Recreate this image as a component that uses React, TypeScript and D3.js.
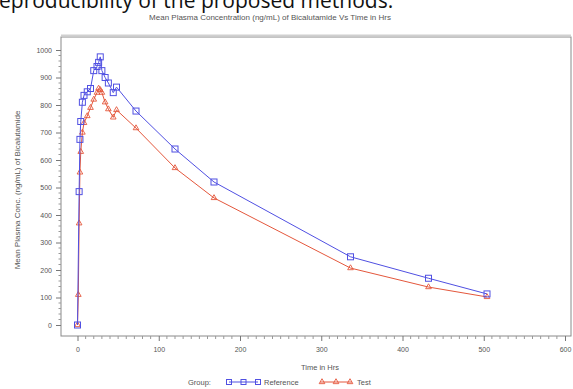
import React, { useEffect, useRef } from 'react';
import * as d3 from 'd3';

// Reference group (blue squares)
const refTime = [0, 2, 3, 4, 6, 8, 12, 16, 20, 24, 26, 28, 30, 34, 38, 44, 48, 72, 120, 168, 336, 432, 504];
const refConc = [0, 485, 675, 740, 810, 835, 848, 860, 925, 940, 955, 975, 925, 900, 880, 845, 865, 778, 640, 520, 248, 170, 113];

// Test group (red)
const testTime = [0, 1, 2, 3, 4, 6, 8, 12, 16, 20, 24, 26, 28, 30, 34, 38, 44, 48, 72, 120, 168, 336, 432, 504];
const testConc = [0, 110, 370, 555, 630, 700, 735, 760, 790, 820, 845, 860, 855, 845, 810, 785, 755, 782, 716, 571, 462, 207, 138, 102];

const xTicks = [0, 100, 200, 300, 400, 500, 600];
const yTicks = [0, 100, 200, 300, 400, 500, 600, 700, 800, 900, 1000];

const title = 'Mean Plasma Concentration (ng/mL) of Bicalutamide Vs Time in Hrs';
const xTitle = 'Time in Hrs';
const yTitle = 'Mean Plasma Conc. (ng/mL) of Bicalutamide';

const App = () => {
    const svgRef = useRef<SVGSVGElement>(null);

    useEffect(() => {
        const svg = d3.select(svgRef.current);
        svg.selectAll('*').remove();

        const width = 573;
        const height = 389;
        const frame = { left: 61, top: 37, right: 571, bottom: 336 };
        const font = 'Liberation Sans, Arial, sans-serif';
        const grey = '#555';

        svg.attr('width', width).attr('height', height);

        svg.append('rect').attr('width', width).attr('height', height).attr('fill', '#fff');

        // document text above the figure, cut off at the top as in the page
        svg.append('text')
            .attr('x', -1).attr('y', 8)
            .attr('font-family', 'Open Sans, sans-serif')
            .attr('font-size', 21)
            .attr('fill', '#111')
            .text('eproducibility of the proposed methods.');

        const x = d3.scaleLinear().domain([0, 600]).range([77.5, 565]);
        const y = d3.scaleLinear().domain([0, 1000]).range([325, 50]);

        // frame
        svg.append('rect')
            .attr('x', frame.left).attr('y', frame.top)
            .attr('width', frame.right - frame.left)
            .attr('height', frame.bottom - frame.top)
            .attr('fill', 'none').attr('stroke', '#8a8a8a').attr('stroke-width', 1);
        svg.append('line')
            .attr('x1', frame.left).attr('x2', frame.right)
            .attr('y1', frame.top - 1.5).attr('y2', frame.top - 1.5)
            .attr('stroke', '#d0d0d0').attr('stroke-width', 2);

        // y axis
        const yAxis = svg.append('g')
            .attr('transform', `translate(${frame.left},0)`)
            .call(d3.axisLeft(y).tickValues(yTicks).tickFormat(d3.format('d')).tickSize(5).tickPadding(4));
        yAxis.select('.domain').remove();
        yAxis.selectAll('line').attr('stroke', '#777');
        yAxis.selectAll('text').attr('font-family', font).attr('font-size', 7).attr('fill', grey);
        svg.append('g').selectAll('line')
            .data(d3.range(0, 1001, 20).filter(v => v % 100 !== 0))
            .join('line')
            .attr('x1', frame.left - 2.5).attr('x2', frame.left)
            .attr('y1', d => y(d)).attr('y2', d => y(d))
            .attr('stroke', '#999');

        // x axis
        const xAxis = svg.append('g')
            .attr('transform', `translate(0,${frame.bottom})`)
            .call(d3.axisBottom(x).tickValues(xTicks).tickFormat(d3.format('d')).tickSize(5).tickPadding(6));
        xAxis.select('.domain').remove();
        xAxis.selectAll('line').attr('stroke', '#777');
        xAxis.selectAll('text').attr('font-family', font).attr('font-size', 7).attr('fill', grey);
        svg.append('g').selectAll('line')
            .data(d3.range(0, 601, 10).filter(v => v % 100 !== 0))
            .join('line')
            .attr('x1', d => x(d)).attr('x2', d => x(d))
            .attr('y1', frame.bottom).attr('y2', frame.bottom + 3)
            .attr('stroke', '#999');

        // titles
        svg.append('text')
            .attr('x', 270).attr('y', 20)
            .attr('text-anchor', 'middle')
            .attr('font-family', font).attr('font-size', 8).attr('fill', grey)
            .text(title);
        svg.append('text')
            .attr('x', 320).attr('y', 370)
            .attr('text-anchor', 'middle')
            .attr('font-family', font).attr('font-size', 7.5).attr('fill', grey)
            .text(xTitle);
        svg.append('text')
            .attr('transform', 'translate(20,190) rotate(-90)')
            .attr('text-anchor', 'middle')
            .attr('font-family', font).attr('font-size', 8).attr('fill', grey)
            .text(yTitle);

        const blue = '#5050e2';
        const red = '#e4573c';

        const line = d3.line<[number, number]>().x(d => x(d[0])).y(d => y(d[1]));
        const refPts: [number, number][] = refTime.map((t, i) => [t, refConc[i]]);
        const testPts: [number, number][] = testTime.map((t, i) => [t, testConc[i]]);

        const triangle = d3.symbol().type(d3.symbolTriangle).size(14);

        svg.append('path').datum(testPts)
            .attr('d', line).attr('fill', 'none').attr('stroke', red).attr('stroke-width', 1);
        svg.append('g').selectAll('path')
            .data(testPts)
            .join('path')
            .attr('transform', d => `translate(${x(d[0])},${y(d[1])})`)
            .attr('d', triangle)
            .attr('fill', 'none').attr('stroke', red).attr('stroke-width', 0.9);

        svg.append('path').datum(refPts)
            .attr('d', line).attr('fill', 'none').attr('stroke', blue).attr('stroke-width', 1);
        svg.append('g').selectAll('rect')
            .data(refPts)
            .join('rect')
            .attr('x', d => x(d[0]) - 3).attr('y', d => y(d[1]) - 3)
            .attr('width', 6).attr('height', 6)
            .attr('fill', 'none').attr('stroke', blue).attr('stroke-width', 1);

        // legend
        const ly = 382;
        svg.append('text')
            .attr('x', 188).attr('y', ly + 2.5)
            .attr('font-family', font).attr('font-size', 7.5).attr('fill', grey)
            .text('Group:');
        svg.append('line')
            .attr('x1', 229).attr('x2', 258).attr('y1', ly).attr('y2', ly)
            .attr('stroke', blue);
        svg.append('g').selectAll('rect')
            .data([0, 1, 2])
            .join('rect')
            .attr('x', d => 229 + d * 14.5 - 2.5).attr('y', ly - 2.5)
            .attr('width', 5).attr('height', 5)
            .attr('fill', 'none').attr('stroke', blue);
        svg.append('text')
            .attr('x', 264).attr('y', ly + 2.5)
            .attr('font-family', font).attr('font-size', 7.5).attr('fill', grey)
            .text('Reference');
        svg.append('line')
            .attr('x1', 320).attr('x2', 352).attr('y1', ly).attr('y2', ly)
            .attr('stroke', red);
        svg.append('g').selectAll('path')
            .data([0, 1, 2])
            .join('path')
            .attr('transform', d => `translate(${322 + d * 14},${ly})`)
            .attr('d', triangle)
            .attr('fill', 'none').attr('stroke', red).attr('stroke-width', 0.9);
        svg.append('text')
            .attr('x', 357).attr('y', ly + 2.5)
            .attr('font-family', font).attr('font-size', 7.5).attr('fill', grey)
            .text('Test');
    }, []);

    return (
        <svg ref={svgRef} style={{ position: 'absolute', left: 0, top: 0 }}></svg>
    );
};

export default App;
